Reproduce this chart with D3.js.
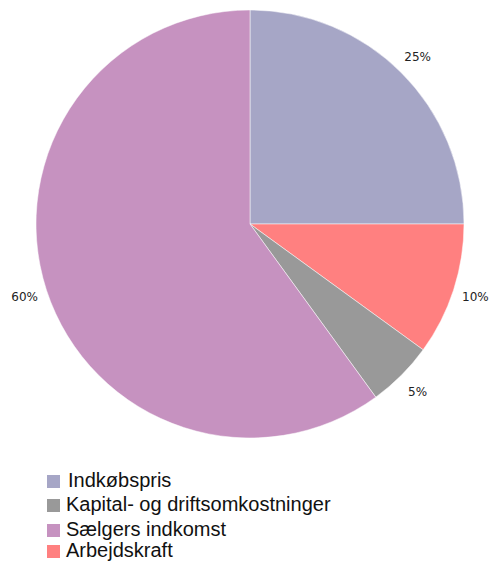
<!DOCTYPE html>
<html><head><meta charset="utf-8">
<script src="https://cdn.jsdelivr.net/npm/d3@7"></script>
<style>body{margin:0;background:#fff;}svg{display:block;}</style>
</head><body>
<svg id="c" width="489" height="563"></svg>
<script>
const sliceOrder = ["Indkøbspris","Arbejdskraft","Kapital- og driftsomkostninger","Sælgers indkomst"];
const sliceValues = [25, 10, 5, 60];
const legendLabels = ["Indkøbspris","Kapital- og driftsomkostninger","Sælgers indkomst","Arbejdskraft"];
const colors = {"Indkøbspris":"#A6A6C6","Kapital- og driftsomkostninger":"#999999","Sælgers indkomst":"#C692C0","Arbejdskraft":"#FF8080"};

const svg = d3.select("#c");
const cx = 250, cy = 224, R = 214, LR = 237;
const data = sliceOrder.map((k,i)=>({k, v:sliceValues[i]}));
const pie = d3.pie().value(d=>d.v).sort(null);
const arcs = pie(data);
const arc = d3.arc().innerRadius(0).outerRadius(R);
const g = svg.append("g").attr("transform",`translate(${cx},${cy})`);
g.selectAll("path").data(arcs).join("path")
  .attr("d",arc).attr("fill",d=>colors[d.data.k])
  .attr("stroke","#fff").attr("stroke-width",0.5);
const labelArc = d3.arc().innerRadius(LR).outerRadius(LR);
g.selectAll("text").data(arcs).join("text")
  .attr("transform",d=>`translate(${labelArc.centroid(d)})`)
  .attr("text-anchor","middle").attr("dy","0.35em")
  .attr("font-family","'DejaVu Sans', Verdana, sans-serif").attr("font-size",12)
  .attr("fill","#222")
  .text(d=>d.data.v+"%");

const lg = svg.append("g");
const baseY = [487, 511, 536, 557];
legendLabels.forEach((k,i)=>{
  lg.append("rect").attr("x",47).attr("y",baseY[i]-12).attr("width",13).attr("height",13).attr("fill",colors[k]);
  lg.append("text").attr("x", i===0?68:66).attr("y",baseY[i])
    .attr("font-family","'Liberation Sans', Arial, sans-serif").attr("font-size",20)
    .attr("fill","#111").text(k);
});
</script>
</body></html>
